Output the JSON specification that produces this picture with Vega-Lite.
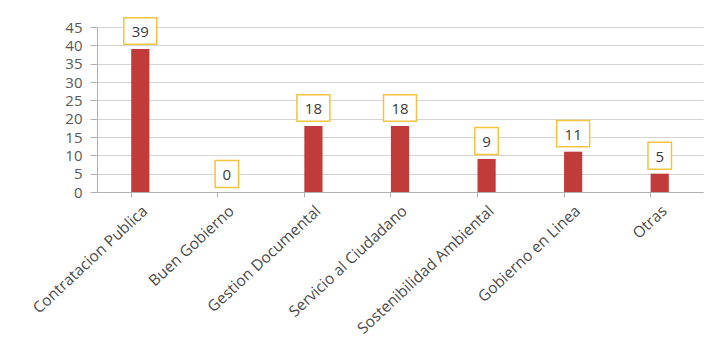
{
  "$schema": "https://vega.github.io/schema/vega-lite/v6.json",
  "autosize": {"type": "none"},
  "width": 606,
  "height": 165,
  "padding": {"left": 97, "top": 27, "right": 14, "bottom": 154},
  "background": "white",
  "data": {"values": [
    {"cat": "Contratacion Publica", "value": 39},
    {"cat": "Buen Gobierno", "value": 0},
    {"cat": "Gestion Documental", "value": 18},
    {"cat": "Servicio al Ciudadano", "value": 18},
    {"cat": "Sostenibilidad Ambiental", "value": 9},
    {"cat": "Gobierno en Linea", "value": 11},
    {"cat": "Otras", "value": 5}
  ]},
  "encoding": {
    "x": {"field": "cat", "type": "nominal", "sort": null,
      "scale": {"paddingInner": 0.79, "paddingOuter": 0.395},
      "axis": {"title": null, "labelAngle": -43, "labelFont": "Open Sans", "labelFontSize": 15.5, "labelColor": "#4a4a4a", "labelPadding": 6, "bandPosition": 0, "tickSize": 5, "tickColor": "#b0b0b0", "domainColor": "#b0b0b0", "grid": false, "labelLimit": 300}},
    "y": {"field": "value", "type": "quantitative",
      "scale": {"domain": [0, 45], "nice": false},
      "axis": {"title": null, "values": [0,5,10,15,20,25,30,35,40,45], "labelFont": "Open Sans", "labelFontSize": 15, "labelColor": "#595959", "tickSize": 7, "tickColor": "#b0b0b0", "labelPadding": 8, "domainColor": "#b0b0b0", "gridColor": "#d4d4d4"}}
  },
  "layer": [
    {"mark": {"type": "bar", "color": "#C23B3B"}},
    {"transform": [{"filter": "datum.value >= 10"}],
     "mark": {"type": "point", "shape": "M-1,-0.8H1V0.8H-1Z", "size": 1089, "filled": false, "fill": "white", "fillOpacity": 1, "stroke": "#F2C440", "strokeWidth": 1.5, "opacity": 1, "yOffset": -18}},
    {"transform": [{"filter": "datum.value < 10"}],
     "mark": {"type": "point", "shape": "M-1,-1.15H1V1.15H-1Z", "size": 552, "filled": false, "fill": "white", "fillOpacity": 1, "stroke": "#F2C440", "strokeWidth": 1.5, "opacity": 1, "yOffset": -18}},
    {"mark": {"type": "text", "font": "Open Sans", "fontSize": 15, "color": "#3a3a3a", "yOffset": -17, "baseline": "middle"},
     "encoding": {"text": {"field": "value", "type": "quantitative"}}}
  ],
  "config": {"view": {"stroke": null}}
}
